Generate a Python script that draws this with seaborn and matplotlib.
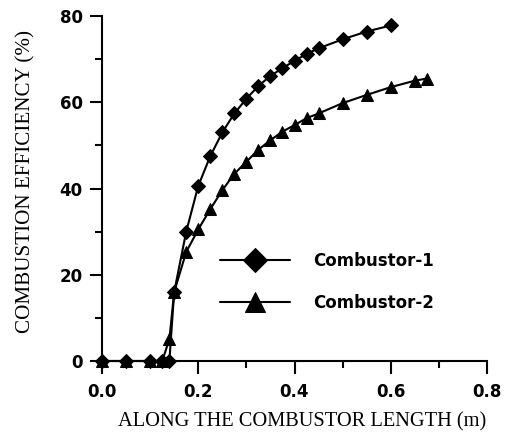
import matplotlib
matplotlib.use("Agg")
import matplotlib.pyplot as plt
from matplotlib.ticker import MultipleLocator
import seaborn as sns
import pandas as pd

# Positions along the combustor (m) and combustion efficiency (%)
x_c1 = [0.0, 0.05, 0.1, 0.125, 0.14, 0.15, 0.175, 0.2, 0.225, 0.25, 0.275,
        0.3, 0.325, 0.35, 0.375, 0.4, 0.425, 0.45, 0.5, 0.55, 0.6]
eff_c1 = [0, 0, 0, 0, 0, 16, 30, 40.6, 47.5, 53, 57.4,
          60.8, 63.8, 66.1, 67.9, 69.6, 71.2, 72.5, 74.6, 76.4, 77.8]

x_c2 = [0.0, 0.05, 0.1, 0.125, 0.14, 0.15, 0.175, 0.2, 0.225, 0.25, 0.275,
        0.3, 0.325, 0.35, 0.375, 0.4, 0.425, 0.45, 0.5, 0.55, 0.6, 0.65, 0.675]
eff_c2 = [0, 0, 0, 0, 5, 16, 25.3, 30.5, 35.2, 39.6, 43.4,
          46.2, 49.0, 51.2, 53.2, 54.7, 56.3, 57.4, 59.8, 61.7, 63.5, 65.0, 65.5]

series_names = ["Combustor-1", "Combustor-2"]
x_ticks = [0.0, 0.2, 0.4, 0.6, 0.8]
y_ticks = [0, 20, 40, 60, 80]

df1 = pd.DataFrame({"x": x_c1, "eff": eff_c1})
df2 = pd.DataFrame({"x": x_c2, "eff": eff_c2})

sns.set_theme(style="ticks")
plt.rcParams["font.family"] = ["DejaVu Sans"]
plt.rcParams["text.color"] = "black"

fig = plt.figure(figsize=(5.12, 4.33), dpi=100)
ax = fig.add_axes([102 / 512, 1 - 361 / 433, 385 / 512, 345 / 433])

common = dict(color="black", linewidth=1.5, markeredgecolor="black",
              markerfacecolor="black", markersize=7, clip_on=False,
              sort=False, estimator=None, ax=ax)
sns.lineplot(data=df1, x="x", y="eff", marker="D", label=series_names[0],
             **common)
sns.lineplot(data=df2, x="x", y="eff", marker="^", label=series_names[1],
             **{**common, "markersize": 8})

ax.set_xlim(0, 0.8)
ax.set_ylim(0, 80)
ax.set_xticks(x_ticks)
ax.set_xticklabels([f"{v:.1f}" for v in x_ticks])
ax.set_yticks(y_ticks)
ax.set_yticklabels([str(v) for v in y_ticks])
ax.xaxis.set_minor_locator(MultipleLocator(0.1))
ax.yaxis.set_minor_locator(MultipleLocator(10))

for side in ["top", "right"]:
    ax.spines[side].set_visible(False)
for side in ["left", "bottom"]:
    ax.spines[side].set_linewidth(1.5)
    ax.spines[side].set_color("black")

ax.tick_params(which="major", direction="out", length=9, width=1.5,
               colors="black", labelsize=12)
ax.tick_params(which="minor", direction="out", length=5, width=1.5,
               colors="black")
ax.tick_params(axis="x", which="major", pad=7)
ax.tick_params(axis="y", which="major", pad=5)
for lab in ax.get_xticklabels() + ax.get_yticklabels():
    lab.set_fontweight("bold")

ax.set_xlabel("ALONG THE COMBUSTOR LENGTH (m)", family="Liberation Serif",
              fontsize=14.7, color="black")
ax.xaxis.set_label_coords(0.521, -0.148)
ax.set_ylabel("COMBUSTION EFFICIENCY (%)", family="Liberation Serif",
              fontsize=15.2, color="black")
ax.yaxis.set_label_coords(-0.174, 0.519)

handles, labels = ax.get_legend_handles_labels()
leg = ax.legend(handles, labels, loc="center left",
                bbox_to_anchor=(205 / 512, 1 - 282 / 433),
                bbox_transform=fig.transFigure, frameon=False,
                markerscale=1.8, handlelength=4.2, handletextpad=1.4,
                labelspacing=1.45, labelcolor="black",
                prop={"family": "DejaVu Sans", "weight": "bold", "size": 12})
ax.grid(False)

fig.savefig("out.png", dpi=100)
